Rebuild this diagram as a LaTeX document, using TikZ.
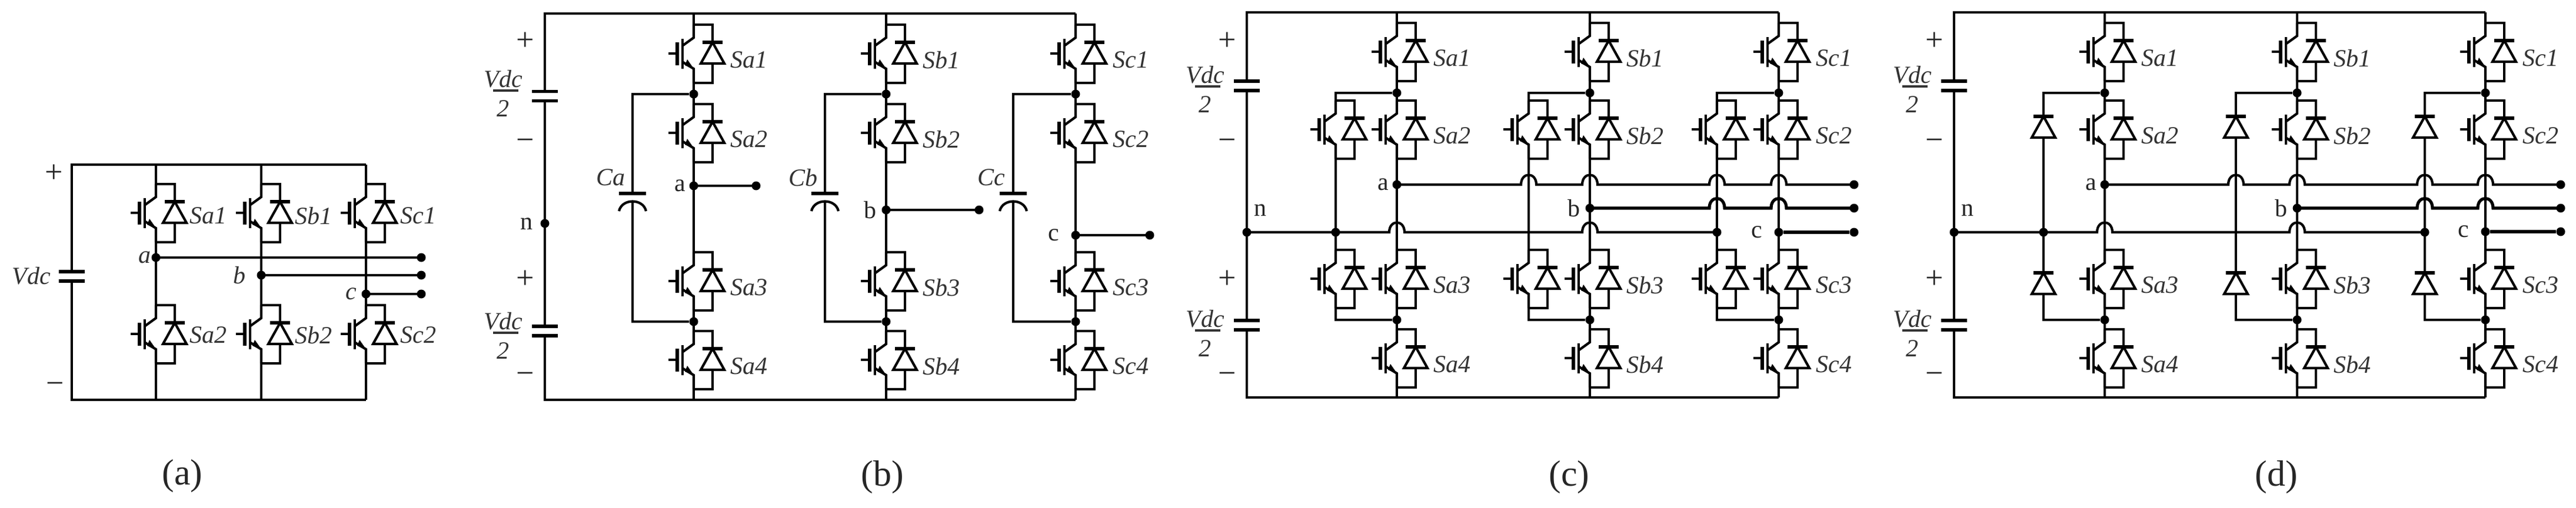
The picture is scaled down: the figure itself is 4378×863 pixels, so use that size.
\documentclass[tikz,border=0pt]{standalone}
\usepackage{fontspec}
\setmainfont{Liberation Serif}

\newcommand{\vdcfrac}{V\kern-10pt\rlap{\rule[-7pt]{43pt}{3.6pt}}\kern10pt dc\\2}

\tikzset{
  wire/.style={line width=4.2pt},
  buswire/.style={line width=5.2pt},
  jdot/.style={circle,fill=black,inner sep=0pt,minimum size=15pt},
  swlabel/.style={text=black!80,inner sep=0pt,font=\fontsize{42}{50}\selectfont\itshape},
  nodelabel/.style={text=black!85,inner sep=0pt,font=\fontsize{42}{50}\selectfont},
  polarity/.style={text=black!85,inner sep=0pt,font=\fontsize{54}{60}\selectfont},
  caption/.style={text=black!85,inner sep=0pt,font=\fontsize{62}{70}\selectfont},
  diode/.pic={
    \coordinate (-k) at (0,-19);
    \coordinate (-a) at (0,17);
    \draw[wire] (0,-19) -- (-20,17) -- (20,17) -- cycle;
    \draw[buswire] (-17,-19) -- (17,-19);
  },
  igbt/.pic={
    \coordinate (-c) at (0,-49);
    \coordinate (-e) at (0,50);
    % Collector and emitter
    \draw[wire] (-c) -- (0,-27) -- (-18,-14);
    \draw[wire] (-18,15) -- (0,26) -- (-e);
    \fill (1,27) -- (-11,10) -- (-15,20) -- cycle;
    % Channel and gate
    \draw[wire] (-19,-25) -- (-19,26);
    \draw[buswire] (-28,-19) -- (-28,20);
    \draw[wire] (-43,0) -- (-28,0);
    % Freewheeling diode
    \pic (-fd) at (32,0) {diode};
    \draw[wire] (-c) -| (-fd-k);
    \draw[wire] (-fd-a) |- (-e);
  },
  dccap/.pic={
    \coordinate (-p) at (0,-8);
    \coordinate (-m) at (0,8);
    \draw[buswire] (-22,-8) -- (22,-8);
    \draw[buswire] (-22,8) -- (22,8);
  },
  flycap/.pic={
    \coordinate (-p) at (0,0);
    \coordinate (-m) at (0,13);
    \draw[buswire] (-23,0) -- (23,0);
    \draw[wire] (-23,30) .. controls (-18,8) and (18,8) .. (23,30);
  }
}

% Four switches per leg, dc bus, capacitors: #1 name, #2 levels, #3 legs
\newcommand{\npcpanel}[3]{%
  \foreach \lft/\ytop/\ybot/\ga/\gb/\gc/\gd/\nup/\nlo/\capa/\capb/\yn/\va/\vb in {#2}{
    \foreach \ph/\x/\y/\ldx/\ox in {#3}{
      \coordinate (#1t\ph) at (\x,\ytop);
      \coordinate (#1b\ph) at (\x,\ybot);
      \foreach \k/\g in {1/\ga,2/\gb,3/\gc,4/\gd}{
        \pic (#1\ph\k) at (\x,\g) {igbt};
        \node[swlabel] (#1l\ph\k) at (\x+94,\g+11) {S\ph\k};
      }
      \node[jdot] (#1u\ph) at (\x,\nup) {};
      \node[jdot] (#1d\ph) at (\x,\nlo) {};
      \node[jdot] (#1\ph) at (\x,\y) {};
      \node[jdot] (#1o\ph) at (\ox,\y) {};
      \node[nodelabel] (#1m\ph) at (\x+\ldx,\y) {\ph};
      \draw[wire] (#1t\ph) -- (#1\ph1-c) (#1\ph1-e) -- (#1u\ph.center) -- (#1\ph2-c)
        (#1\ph2-e) -- (#1\ph.center) -- (#1\ph3-c)
        (#1\ph3-e) -- (#1d\ph.center) -- (#1\ph4-c) (#1\ph4-e) -- (#1b\ph);
    }
    % DC bus
    \coordinate (#1tl) at (\lft,\ytop);
    \coordinate (#1bl) at (\lft,\ybot);
    \pic (#1cu) at (\lft,\capa) {dccap};
    \pic (#1cd) at (\lft,\capb) {dccap};
    \node[jdot] (#1n) at (\lft,\yn) {};
    \draw[wire] (#1tc) -- (#1tl) -- (#1cu-p) (#1cu-m) -- (#1n.center) -- (#1cd-p)
      (#1cd-m) -- (#1bl) -- (#1bc);
    \node[polarity] (#1p1) at (\lft-33,70) {+};
    \node[polarity] (#1p2) at (\lft-33,246) {−};
    \node[polarity] (#1p3) at (\lft-33,475) {+};
    \node[polarity] (#1p4) at (\lft-33,643) {−};
    \node[swlabel,align=center] (#1v1) at (\lft-71,\va) {\vdcfrac};
    \node[swlabel,align=center] (#1v2) at (\lft-71,\vb) {\vdcfrac};
  }
}

% Output wire that hops over the legs in #5
\newcommand{\hopwire}[5][wire]{%
  \draw[#1] (#2.center) \foreach \h in {#5}{
    -- (\h-13,#4) .. controls (\h-13,#4-22) and (\h+13,#4-22) .. (\h+13,#4)} -- (#3.center);
}

\begin{document}
\begin{tikzpicture}[x=1pt,y=-1pt]
    \useasboundingbox (0,0) rectangle (4378,863);

    % Panel (a), two-level
    \foreach \ph/\x/\y/\ldx in {a/265/438/-19,b/444/468/-37,c/622/500/-25}{
      \coordinate (At\ph) at (\x,280);
      \coordinate (Ab\ph) at (\x,680);
      \pic (A\ph1) at (\x,362) {igbt};
      \pic (A\ph2) at (\x,568) {igbt};
      \node[swlabel] (Al\ph1) at (\x+89,367) {S\ph1};
      \node[swlabel] (Al\ph2) at (\x+89,570) {S\ph2};
      \node[jdot] (A\ph) at (\x,\y) {};
      \node[jdot] (Ao\ph) at (716,\y) {};
      \node[swlabel] (Am\ph) at (\x+\ldx,\y) {\ph};
      \draw[wire] (At\ph) -- (A\ph1-c) (A\ph1-e) -- (A\ph.center) -- (A\ph2-c) (A\ph2-e) -- (Ab\ph);
      \draw[wire] (A\ph.center) -- (Ao\ph.center);
    }
    \coordinate (Atl) at (122,280);
    \coordinate (Abl) at (122,680);
    \pic (Acap) at (122,470) {dccap};
    \draw[wire] (Atc) -- (Atl) -- (Acap-p) (Acap-m) -- (Abl) -- (Abc);
    \node[polarity] (Ap1) at (92,295) {+};
    \node[polarity] (Ap2) at (94,660) {−};
    \node[swlabel] (Avdc) at (53,469) {Vdc};
    \node[caption] (Acap1) at (310,810) {(a)};

    % Panel (b), flying capacitors
    \npcpanel{B}{926/23/680/91/226/478/612/160/547/163.5/563/380/159/571}
      {a/1179/316/-23/1285,b/1506/357/-27/1664,c/1828/400/-37/1954}
    \foreach \ph/\x in {a/1075,b/1402,c/1722}{
      \pic (Bf\ph) at (\x,329) {flycap};
      \node[swlabel] (Bfl\ph) at (\x-37,302) {C\ph};
      \draw[wire] (Bu\ph) -| (Bf\ph-p) (Bf\ph-m) |- (Bd\ph);
      \draw[wire] (B\ph.center) -- (Bo\ph.center);
    }
    \node[nodelabel] (Bnl) at (895,381) {n};
    \node[caption] (Bcap) at (1500,812) {(b)};

    % Panel (c), clamping switches
    \npcpanel{C}{2119/21/676/88/220/474/609/158/544/146/553/395/152/567}
      {a/2374/314/-23/3151,b/2702/354/-27/3151,c/3023/395/-37/3151}
    \foreach \ph/\x in {a/2270,b/2598,c/2918}{
      \coordinate (Cj\ph) at (\x,395);
      \pic (Cz\ph1) at (\x,220) {igbt};
      \pic (Cz\ph2) at (\x,474) {igbt};
      \draw[wire] (Cu\ph) -| (Cz\ph1-c) (Cz\ph1-e) -- (Cj\ph) -- (Cz\ph2-c) (Cz\ph2-e) |- (Cd\ph);
    }
    \node[jdot] (Cja1) at (Cja) {};
    \node[jdot] (Cjc1) at (Cjc) {};
    \hopwire{Cn}{Cjc1}{395}{2374,2702}
    \hopwire{Ca}{Coa}{314}{2598,2702,2918,3023}
    \hopwire[buswire]{Cb}{Cob}{354}{2918,3023}
    \draw[buswire] (Cc) -- (Coc);
    \node[nodelabel] (Cnl) at (2142,358) {n};
    \node[caption] (Ccap) at (2667,812) {(c)};

    % Panel (d), clamping diodes
    \npcpanel{D}{3321/21/676/88/220/474/609/158/544/146/553/395/152/567}
      {a/3577/314/-23/4352,b/3904/354/-27/4352,c/4224/394/-37/4352}
    \foreach \ph/\x in {a/3473,b/3800,c/4121}{
      \coordinate (Dj\ph) at (\x,395);
      \pic (Dz\ph1) at (\x,217) {diode};
      \pic (Dz\ph2) at (\x,483) {diode};
      \draw[wire] (Du\ph) -| (Dz\ph1-k) (Dz\ph1-a) -- (Dj\ph) -- (Dz\ph2-k) (Dz\ph2-a) |- (Dd\ph);
    }
    \node[jdot] (Dja1) at (Dja) {};
    \node[jdot] (Djc1) at (Djc) {};
    \hopwire{Dn}{Djc1}{395}{3577,3904}
    \hopwire{Da}{Doa}{314}{3800,3904,4121,4224}
    \hopwire[buswire]{Db}{Dob}{354}{4121,4224}
    \draw[buswire] (Dc) -- (Doc);
    \node[nodelabel] (Dnl) at (3344,358) {n};
    \node[caption] (Dcap) at (3869,812) {(d)};

\end{tikzpicture}
\end{document}
